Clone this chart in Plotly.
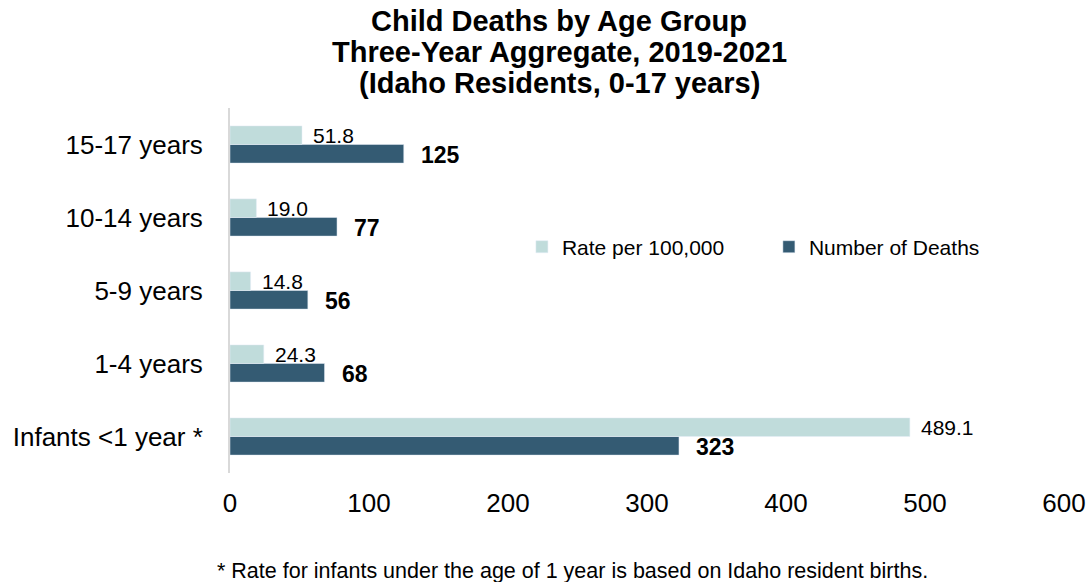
import plotly.graph_objects as go

categories = ["Infants <1 year *", "1-4 years", "5-9 years", "10-14 years", "15-17 years"]
rate_per_100k = [489.1, 24.3, 14.8, 19.0, 51.8]
number_of_deaths = [323, 68, 56, 77, 125]
x_ticks = [0, 100, 200, 300, 400, 500, 600]
title_lines = ["Child Deaths by Age Group",
               "Three-Year Aggregate, 2019-2021",
               "(Idaho Residents, 0-17 years)"]
footnote = "* Rate for infants under the age of 1 year is based on Idaho resident births."

LIGHT = "#C0DCDB"
DARK = "#345B73"
FONT = "Liberation Sans, Arial, sans-serif"

fig = go.Figure()
# dark first so it sits below the light bar in each group
fig.add_trace(go.Bar(y=categories, x=number_of_deaths, orientation="h",
                     name="Number of Deaths", marker_color=DARK, legendrank=2))
fig.add_trace(go.Bar(y=categories, x=rate_per_100k, orientation="h",
                     name="Rate per 100,000", marker_color=LIGHT, legendrank=1))

annotations = []
for c, v in zip(categories, rate_per_100k):
    annotations.append(dict(x=v, y=c, xref="x", yref="y", text=f"{v:.1f}",
                            showarrow=False, xanchor="left", yanchor="middle",
                            xshift=9, yshift=9, font=dict(size=21, color="#000000")))
for c, v in zip(categories, number_of_deaths):
    annotations.append(dict(x=v, y=c, xref="x", yref="y", text=f"<b>{v}</b>",
                            showarrow=False, xanchor="left", yanchor="middle",
                            xshift=15, yshift=-10, font=dict(size=23, color="#000000")))

title_y = [1.238, 1.153, 1.068]
for t, yy in zip(title_lines, title_y):
    annotations.append(dict(x=0.3945, y=yy, xref="paper", yref="paper", text=f"<b>{t}</b>",
                            showarrow=False, xanchor="center", yanchor="middle",
                            font=dict(size=29, color="#000000")))
annotations.append(dict(x=0.411, y=-0.268, xref="paper", yref="paper", text=footnote,
                        showarrow=False, xanchor="center", yanchor="middle",
                        font=dict(size=21.5, color="#000000")))

fig.update_layout(
    width=1090, height=582,
    margin=dict(l=230, r=26, t=108, b=109, autoexpand=False),
    paper_bgcolor="white", plot_bgcolor="white",
    font=dict(family=FONT, color="#000000"),
    barmode="group", bargap=0.49, bargroupgap=0,
    showlegend=True,
    legend=dict(orientation="h", x=0.35, y=0.619, xanchor="left", yanchor="middle",
                font=dict(size=21), entrywidth=202, entrywidthmode="pixels",
                bgcolor="rgba(0,0,0,0)"),
    annotations=annotations,
)
fig.update_xaxes(range=[0, 600], tickvals=x_ticks, ticktext=[str(t) for t in x_ticks],
                 showgrid=False, zeroline=False, showline=False, ticks="",
                 tickfont=dict(size=26), ticklabelstandoff=12)
fig.update_yaxes(categoryorder="array", categoryarray=categories,
                 showgrid=False, zeroline=False, showline=True, linecolor="#D9D9D9",
                 linewidth=2, ticks="", tickfont=dict(size=26), ticklabelstandoff=20)

fig.write_html("out.html")
